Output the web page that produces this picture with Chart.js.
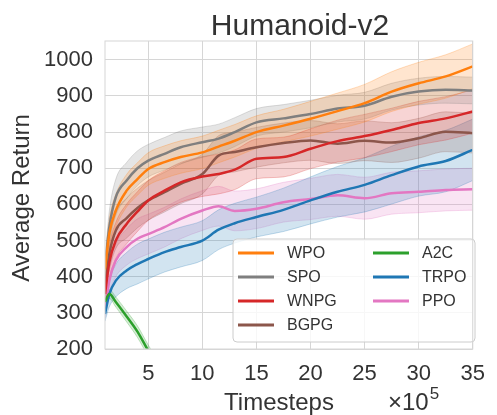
<!DOCTYPE html>
<html>
<head>
<meta charset="utf-8">
<script src="https://cdn.jsdelivr.net/npm/chart.js@4.4.1/dist/chart.umd.min.js"></script>
<style>
    html, body { margin: 0; padding: 0; background: #ffffff; }
    #wrap { width: 497px; height: 415px; }
</style>
</head>
<body>
<div id="wrap"><canvas id="chart" width="497" height="415"></canvas></div>
<script>
// Timesteps (x 10^5)
const timesteps = [1, 1.4, 2, 3, 4, 5, 6.5, 8, 10, 11.5, 13, 15, 17.5, 20, 22.5, 25, 27.5, 30, 32.5, 35];

// Average return per method
const wpoMean  = [420, 520, 583, 638, 670, 698, 717, 731, 744, 760, 776, 800, 818, 837, 858, 880, 912, 935, 954, 982];
const spoMean  = [426, 537, 620, 666, 700, 721, 740, 758, 772, 782, 800, 827, 838, 850, 865, 873, 898, 912, 917, 915];
const wnpgMean = [352, 440, 500, 546, 580, 611, 638, 661, 677, 684, 696, 726, 731, 754, 775, 789, 806, 825, 838, 857];
const bgpgMean = [371, 463, 528, 562, 590, 611, 634, 657, 684, 735, 745, 758, 770, 777, 768, 776, 771, 783, 801, 797];
const a2cMean  = [330, 352, 330, 290, 248, 195, 120, null, null, null, null, null, null, null, null, null, null, null, null, null];
const trpoMean = [297, 352, 389, 417, 435, 449, 468, 482, 500, 530, 548, 565, 585, 611, 635, 654, 681, 705, 720, 751];
const ppoMean  = [306, 389, 445, 482, 505, 518, 537, 560, 583, 595, 582, 588, 606, 615, 625, 617, 631, 635, 640, 642];

// Spread of the shaded bands
const wpoStd  = [25, 40, 45, 45, 45, 45, 45, 45, 45, 45, 45, 45, 45, 48, 50, 52, 55, 58, 60, 62];
const spoStd  = [25, 45, 50, 50, 48, 45, 45, 45, 42, 40, 40, 38, 38, 38, 37, 37, 37, 37, 37, 37];
const wnpgStd = [30, 45, 50, 55, 55, 55, 55, 55, 55, 55, 55, 55, 55, 55, 58, 60, 60, 60, 60, 60];
const bgpgStd = [30, 45, 50, 55, 55, 55, 55, 55, 55, 55, 55, 55, 55, 55, 55, 55, 55, 55, 55, 55];
const a2cStd  = [10, 12, 14, 15, 16, 16, 16, null, null, null, null, null, null, null, null, null, null, null, null, null];
const trpoStd = [20, 35, 45, 50, 55, 55, 55, 55, 55, 55, 55, 55, 60, 65, 70, 75, 80, 82, 85, 85];
const ppoStd  = [20, 35, 45, 50, 55, 55, 55, 55, 55, 55, 55, 55, 55, 57, 58, 58, 58, 58, 58, 58];

const xTicks = [5, 10, 15, 20, 25, 30, 35];
const yTicks = [200, 300, 400, 500, 600, 700, 800, 900, 1000];

// Series in legend order (column-major: 4 left, 3 right)
const series = [
    { label: 'WPO',  mean: wpoMean,  std: wpoStd,  rgb: [255, 127, 14] },
    { label: 'SPO',  mean: spoMean,  std: spoStd,  rgb: [127, 127, 127] },
    { label: 'WNPG', mean: wnpgMean, std: wnpgStd, rgb: [214, 39, 40] },
    { label: 'BGPG', mean: bgpgMean, std: bgpgStd, rgb: [140, 86, 75] },
    { label: 'A2C',  mean: a2cMean,  std: a2cStd,  rgb: [44, 160, 44] },
    { label: 'TRPO', mean: trpoMean, std: trpoStd, rgb: [31, 119, 180] },
    { label: 'PPO',  mean: ppoMean,  std: ppoStd,  rgb: [227, 119, 194] }
];

const FONT = '"Liberation Sans", Arial, sans-serif';
const TEXT = '#333333';

function rgba(rgb, a) {
    return 'rgba(' + rgb[0] + ',' + rgb[1] + ',' + rgb[2] + ',' + a + ')';
}

function toPoints(values) {
    return timesteps.map((t, i) => ({ x: t, y: values[i] }));
}

// Build datasets: upper band, lower band, then the mean line
const datasets = [];
series.forEach(s => {
    const upper = s.mean.map((m, i) => m === null ? null : m + s.std[i]);
    const lower = s.mean.map((m, i) => m === null ? null : m - s.std[i]);
    datasets.push({
        label: s.label + ' upper',
        data: toPoints(upper),
        borderColor: rgba(s.rgb, 0.25),
        borderWidth: 1,
        backgroundColor: rgba(s.rgb, 0.2),
        fill: '+1',
        pointRadius: 0,
        order: 2
    });
    datasets.push({
        label: s.label + ' lower',
        data: toPoints(lower),
        borderColor: rgba(s.rgb, 0.25),
        borderWidth: 1,
        fill: false,
        pointRadius: 0,
        order: 2
    });
    datasets.push({
        label: s.label,
        data: toPoints(s.mean),
        borderColor: rgba(s.rgb, 1),
        borderWidth: 2.5,
        fill: false,
        pointRadius: 0,
        order: 1
    });
});

// Texts, legend box and the x10^5 multiplier
const decorations = {
    id: 'decorations',
    afterDraw(chart) {
        const ctx = chart.ctx;
        const area = chart.chartArea;
        ctx.save();
        ctx.fillStyle = TEXT;

        // Title
        ctx.font = '30px ' + FONT;
        ctx.textAlign = 'center';
        ctx.textBaseline = 'alphabetic';
        ctx.fillText('Humanoid-v2', 300, 35);

        // Y axis title
        ctx.save();
        ctx.translate(22, 198);
        ctx.rotate(-Math.PI / 2);
        ctx.font = '24px ' + FONT;
        ctx.textBaseline = 'middle';
        ctx.fillText('Average Return', 0, 0);
        ctx.restore();

        // X axis title
        ctx.font = '24px ' + FONT;
        ctx.textAlign = 'center';
        ctx.textBaseline = 'alphabetic';
        ctx.fillText('Timesteps', 279, 410);

        // Multiplier
        ctx.textAlign = 'left';
        const mult = '\u00d710';
        ctx.fillText(mult, 388, 410);
        const mw = ctx.measureText(mult).width;
        ctx.font = '17px ' + FONT;
        ctx.fillText('5', 388 + mw + 1, 399);

        // Legend box
        const bx = 233, by = 239, bw = 242, bh = 103;
        ctx.beginPath();
        ctx.roundRect(bx, by, bw, bh, 4);
        ctx.fillStyle = 'rgba(255,255,255,0.8)';
        ctx.fill();
        ctx.strokeStyle = '#cccccc';
        ctx.lineWidth = 1;
        ctx.stroke();

        ctx.font = '16px ' + FONT;
        ctx.textBaseline = 'middle';
        series.forEach((s, i) => {
            const col = i < 4 ? 0 : 1;
            const row = i < 4 ? i : i - 4;
            const lx = col === 0 ? 238 : 373;
            const ly = 253 + row * 24;
            ctx.beginPath();
            ctx.moveTo(lx, ly);
            ctx.lineTo(lx + 36, ly);
            ctx.strokeStyle = rgba(s.rgb, 1);
            ctx.lineWidth = 3;
            ctx.stroke();
            ctx.fillStyle = TEXT;
            ctx.textAlign = 'left';
            ctx.fillText(s.label, lx + 49, ly + 1);
        });

        // Plot frame
        ctx.strokeStyle = '#d6d6d6';
        ctx.lineWidth = 1;
        ctx.strokeRect(area.left, area.top, area.right - area.left, area.bottom - area.top);
        ctx.restore();
    }
};

new Chart(document.getElementById('chart'), {
    type: 'line',
    data: { datasets },
    plugins: [decorations],
    options: {
        responsive: false,
        animation: false,
        elements: { line: { cubicInterpolationMode: 'monotone' } },
        layout: { padding: { top: 41, right: 13, left: 0, bottom: 0 } },
        plugins: {
            legend: { display: false },
            tooltip: { enabled: false },
            filler: { propagate: false }
        },
        scales: {
            x: {
                type: 'linear',
                min: 1,
                max: 35,
                afterBuildTicks: scale => { scale.ticks = xTicks.map(v => ({ value: v })); },
                afterFit: scale => { scale.height = 66; },
                grid: { color: '#d6d6d6', lineWidth: 1, drawTicks: false },
                border: { display: false },
                ticks: { color: TEXT, font: { size: 22, family: FONT }, padding: 12, maxRotation: 0,
                         callback: v => String(v) }
            },
            y: {
                type: 'linear',
                min: 200,
                max: 1052,
                afterBuildTicks: scale => { scale.ticks = yTicks.map(v => ({ value: v })); },
                afterFit: scale => { scale.width = 105; },
                grid: { color: '#d6d6d6', lineWidth: 1, drawTicks: false },
                border: { display: false },
                ticks: { color: TEXT, font: { size: 22, family: FONT }, padding: 12,
                         callback: v => String(v) }
            }
        }
    }
});
</script>
</body>
</html>
